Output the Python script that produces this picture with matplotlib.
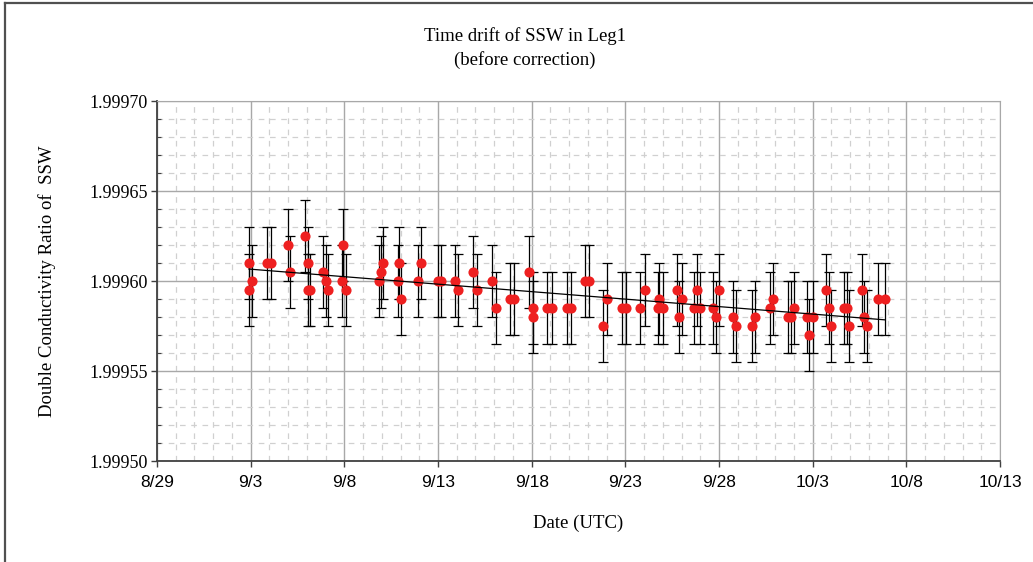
import numpy as np
import matplotlib.pyplot as plt
from matplotlib.ticker import MultipleLocator, FixedLocator, FixedFormatter

# observation time, days counted from 8/29 (UTC)
days = np.array([
    4.91, 5.06, 4.91, 5.86, 6.07, 6.98, 7.10, 7.92, 8.04, 8.04,
    8.18, 8.86, 9.01, 9.13, 9.91, 9.88, 10.07, 11.94, 12.05, 11.85,
    12.93, 12.85, 13.02, 14.08, 13.92, 14.98, 15.14, 15.89, 16.05, 16.88,
    17.10, 17.88, 18.08, 18.84, 19.07, 19.84, 20.06, 20.06, 20.80, 21.07,
    21.87, 22.08, 22.85, 23.06, 23.81, 24.04, 24.81, 25.04, 25.78, 26.03,
    26.76, 26.81, 27.03, 27.74, 27.87, 28.01, 28.67, 28.84, 28.99, 29.70,
    29.84, 29.98, 30.76, 30.91, 31.75, 31.92, 32.72, 32.90, 33.68, 33.84,
    34.00, 34.70, 34.80, 35.02, 35.71, 35.86, 35.98, 36.67, 36.85, 36.94,
    37.62, 37.74, 37.92, 38.50, 38.86,
])

# double conductivity ratio of SSW
ratio = np.array([
    1.999610, 1.999600, 1.999595, 1.999610, 1.999610, 1.999620, 1.999605, 1.999625, 1.999610, 1.999595,
    1.999595, 1.999605, 1.999600, 1.999595, 1.999620, 1.999600, 1.999595, 1.999605, 1.999610, 1.999600,
    1.999610, 1.999600, 1.999590, 1.999610, 1.999600, 1.999600, 1.999600, 1.999600, 1.999595, 1.999605,
    1.999595, 1.999600, 1.999585, 1.999590, 1.999590, 1.999605, 1.999585, 1.999580, 1.999585, 1.999585,
    1.999585, 1.999585, 1.999600, 1.999600, 1.999575, 1.999590, 1.999585, 1.999585, 1.999585, 1.999595,
    1.999585, 1.999590, 1.999585, 1.999595, 1.999580, 1.999590, 1.999585, 1.999595, 1.999585, 1.999585,
    1.999580, 1.999595, 1.999580, 1.999575, 1.999575, 1.999580, 1.999585, 1.999590, 1.999580, 1.999580,
    1.999585, 1.999580, 1.999570, 1.999580, 1.999595, 1.999585, 1.999575, 1.999585, 1.999585, 1.999575,
    1.999595, 1.999580, 1.999575, 1.999590, 1.999590,
])

err = 0.00002

date_ticks = [0, 5, 10, 15, 20, 25, 30, 35, 40, 45]
date_labels = ["8/29", "9/3", "9/8", "9/13", "9/18", "9/23", "9/28", "10/3", "10/8", "10/13"]

plt.rcParams['font.family'] = ['Liberation Serif', 'DejaVu Serif']

fig = plt.figure(figsize=(10.33, 5.62), dpi=100)
ax = fig.add_axes([157 / 1033, 1 - 461 / 562, 843 / 1033, 360 / 562])

# frame round the chart area (only left and top edges are inside the image)
fig.add_artist(plt.Line2D([0.005, 0.005], [0, 0.995], color='#505050', lw=1.6, transform=fig.transFigure))
fig.add_artist(plt.Line2D([0.005, 1], [0.995, 0.995], color='#505050', lw=1.6, transform=fig.transFigure))

ax.errorbar(days, ratio, yerr=err, fmt='none', ecolor='black', elinewidth=0.9,
            capsize=3.6, capthick=0.9, zorder=3)
ax.plot(days, ratio, 'o', color='#ee2020', markersize=7.3, markeredgewidth=0, zorder=4)

# linear fit
b, a = np.polyfit(days, ratio, 1)
xf = np.array([days.min(), days.max()])
ax.plot(xf, b * xf + a, color='black', lw=0.9, zorder=5)

ax.set_xlim(0, 45)
ax.set_ylim(1.99950, 1.99970)
ax.xaxis.set_major_locator(FixedLocator(date_ticks))
ax.xaxis.set_major_formatter(FixedFormatter(date_labels))
ax.xaxis.set_minor_locator(MultipleLocator(1))
ax.yaxis.set_major_locator(MultipleLocator(0.00005))
ax.yaxis.set_minor_locator(MultipleLocator(0.00001))
ax.yaxis.set_major_formatter(plt.FuncFormatter(lambda v, p: "%.5f" % v))

ax.grid(which='major', color='#a8a8a8', lw=1.0, zorder=1)
ax.grid(which='minor', color='#d0d0d0', lw=0.9, linestyle=(0, (4.5, 4.5)), zorder=1)
ax.set_axisbelow(True)

for s in ['top', 'right']:
    ax.spines[s].set_color('#a8a8a8')
for s in ['left', 'bottom']:
    ax.spines[s].set_color('#404040')
    ax.spines[s].set_linewidth(1.3)

ax.tick_params(which='major', direction='out', length=4, width=1, color='#404040', labelsize=12)
ax.tick_params(axis='y', which='major', pad=2.5, labelsize=13)
ax.tick_params(axis='x', which='major', pad=6)
ax.tick_params(which='minor', direction='in', length=3, width=0.8, color='#404040')
ax.tick_params(axis='x', which='minor', length=0)
for lbl in ax.get_xticklabels():
    lbl.set_family(['Liberation Sans Narrow', 'Liberation Sans', 'DejaVu Sans'])
    lbl.set_fontsize(12.5)

fig.text(0.508, 0.935, "Time drift of SSW in Leg1", ha='center', va='center', fontsize=13.5)
fig.text(0.508, 0.893, "(before correction)", ha='center', va='center', fontsize=13.5)
ax.set_xlabel("Date (UTC)", fontsize=13.5, labelpad=18)
ax.set_ylabel("Double Conductivity Ratio of  SSW", fontsize=13.5, labelpad=24)

fig.savefig("out.png", dpi=100)
